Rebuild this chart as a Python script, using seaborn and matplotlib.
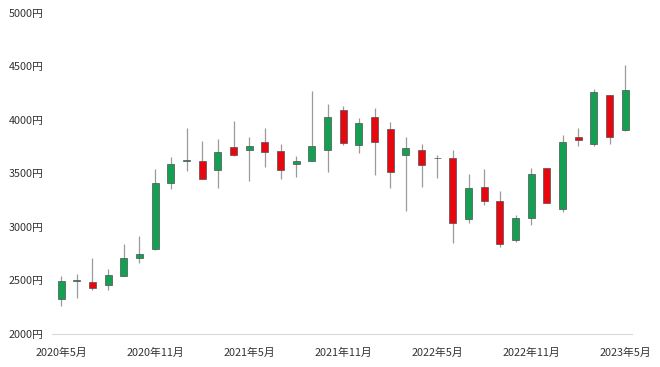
import matplotlib
matplotlib.use("Agg")
import matplotlib.pyplot as plt
import numpy as np
import pandas as pd
import seaborn as sns

# monthly candles, 2020-05 .. 2023-05
months = pd.period_range("2020-05", "2023-05", freq="M")
opens = [2327, 2498, 2483, 2460, 2544, 2713, 2791, 3413, 3615, 3615, 3531, 3746, 3718,
         3790, 3711, 3587, 3618, 3718, 4091, 3765, 4029, 3911, 3671, 3715, 3641, 3640,
         3074, 3375, 3239, 2875, 3083, 3547, 3164, 3842, 3774, 4229, 3907]
closes = [2495, 2502, 2427, 2548, 2713, 2750, 3407, 3587, 3622, 3447, 3702, 3671, 3752,
          3697, 3531, 3618, 3758, 4029, 3781, 3967, 3790, 3510, 3734, 3575, 3645, 3033,
          3366, 3242, 2843, 3083, 3491, 3223, 3793, 3809, 4260, 3842, 4278]
highs = [2542, 2560, 2710, 2604, 2837, 2915, 3543, 3655, 3921, 3802, 3824, 3992, 3837,
         3921, 3771, 3659, 4272, 4150, 4132, 4020, 4113, 3977, 3842, 3774, 3671, 3718,
         3491, 3538, 3335, 3111, 3547, 3550, 3855, 3926, 4285, 4232, 4509]
lows = [2261, 2339, 2408, 2411, 2540, 2660, 2781, 3351, 3522, 3445, 3366, 3665, 3431,
        3562, 3444, 3469, 3615, 3510, 3765, 3693, 3485, 3360, 3151, 3373, 3454, 2847,
        3033, 3204, 2809, 2862, 3021, 3220, 3142, 3755, 3758, 3774, 3893]

yticks = [2000, 2500, 3000, 3500, 4000, 4500, 5000]
xtick_idx = [0, 6, 12, 18, 24, 30, 36]

UP = "#14a052"
DOWN = "#e8060f"

df = pd.DataFrame({"open": opens, "close": closes, "high": highs, "low": lows})
df["x"] = np.arange(len(df))
df["bottom"] = df[["open", "close"]].min(axis=1)
df["height"] = (df["close"] - df["open"]).abs().clip(lower=4)
df["color"] = np.where(df["close"] >= df["open"], UP, DOWN)

sns.set_theme(style="white")
plt.rcParams["font.family"] = ["Noto Sans CJK JP", "DejaVu Sans"]

fig = plt.figure(figsize=(6.6, 3.67), dpi=100)
ax = fig.add_axes([0.079, 0.090, 0.879, 0.875])

ax.vlines(df["x"], df["low"], df["high"], color="#9a9a9a", linewidth=0.9, zorder=1)
ax.bar(df["x"], df["height"], bottom=df["bottom"], width=0.44, color=df["color"],
       edgecolor="#505050", linewidth=0.5, zorder=2)

ax.set_xlim(-0.575, 36.45)
ax.set_ylim(2000, 5000)
ax.set_yticks(yticks)
ax.set_yticklabels([f"{v}円" for v in yticks])
ax.set_xticks(xtick_idx)
ax.set_xticklabels([f"{months[i].year}年{months[i].month}月" for i in xtick_idx])
ax.tick_params(axis="y", length=0, pad=6, labelsize=7.8, labelcolor="#333333")
ax.tick_params(axis="x", length=0, pad=10, labelsize=7.8, labelcolor="#333333")

for side in ["top", "right", "left"]:
    ax.spines[side].set_visible(False)
ax.spines["bottom"].set_color("#d9d9d9")
ax.spines["bottom"].set_linewidth(0.8)
ax.grid(False)

fig.savefig("out.png", dpi=100)
